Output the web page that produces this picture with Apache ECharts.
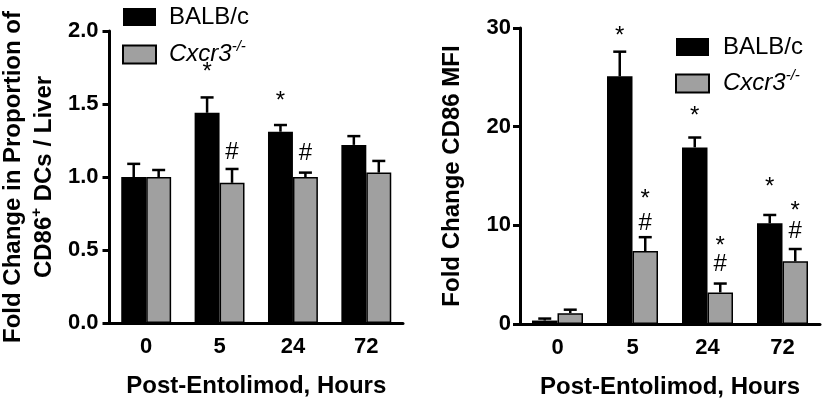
<!DOCTYPE html>
<html>
<head>
<meta charset="utf-8">
<script src="https://cdn.jsdelivr.net/npm/echarts@6/dist/echarts.min.js"></script>
<style>
html,body{margin:0;padding:0;background:#fff;}
#chart{width:825px;height:404px;}
</style>
</head>
<body>
<div id="chart"></div>
<script>
// ---- data ----
const categories = ['0', '5', '24', '72'];
const leftTicks = [0, 0.5, 1.0, 1.5, 2.0];
const rightTicks = [0, 10, 20, 30];

const leftBalb = [1.00, 1.44, 1.31, 1.22];
const leftBalbErr = [0.09, 0.105, 0.046, 0.06];
const leftCxcr3 = [1.00, 0.96, 1.00, 1.03];
const leftCxcr3Err = [0.048, 0.095, 0.03, 0.08];

const rightBalb = [0.35, 25.1, 17.9, 10.2];
const rightBalbErr = [0.2, 2.5, 1.0, 0.85];
const rightCxcr3 = [1.1, 7.4, 3.2, 6.35];
const rightCxcr3Err = [0.35, 1.4, 0.9, 1.25];

// significance marks (y value of each mark's centre)
const leftBalbStarY = [null, 1.75, 1.55, null];
const leftCxcr3HashY = [null, 1.17, 1.16, null];
const rightBalbStarY = [null, 29.7, 21.5, 14.4];
const rightCxcr3StarY = [null, 13.1, 8.4, 11.9];
const rightCxcr3HashY = [null, 10.2, 6.0, 9.4];

const FONT = '"Liberation Sans", Arial, sans-serif';
const GAP = 0.32;
const BLACK = '#000000';
const GRAY = '#a0a0a0';

function errData(vals, errs) {
  return vals.map((v, i) => [i, v, errs[i]]);
}
function markData(ys) {
  const out = [];
  ys.forEach((y, i) => { if (y !== null) out.push([i, y]); });
  return out;
}
function errRender(side) {
  return function (params, api) {
    const i = api.value(0), v = api.value(1), e = api.value(2);
    const base = api.coord([i, v]);
    const top = api.coord([i, v + e]);
    const band = api.size([1, 0])[0];
    const bw = band * (1 - GAP) / 2;
    const x = base[0] + side * bw / 2;
    const st = { stroke: '#000', lineWidth: 2.5 };
    return {
      type: 'group',
      children: [
        { type: 'line', shape: { x1: x, y1: base[1], x2: x, y2: top[1] }, style: st },
        { type: 'line', shape: { x1: x - 6.5, y1: top[1], x2: x + 6.5, y2: top[1] }, style: st }
      ]
    };
  };
}
function markRender(side, txt) {
  return function (params, api) {
    const i = api.value(0), y = api.value(1);
    const p = api.coord([i, y]);
    const band = api.size([1, 0])[0];
    const bw = band * (1 - GAP) / 2;
    const x = p[0] + side * bw / 2;
    const dy = txt === '*' ? 5 : 0;
    return {
      type: 'text',
      x: x, y: p[1] + dy,
      style: { text: txt, fill: '#000', font: '24px ' + FONT, fontSize: 24, fontFamily: FONT,
        align: 'center', verticalAlign: 'middle' }
    };
  };
}

const richName = {
  b: { fontSize: 24, fontWeight: 'bold', fontFamily: FONT, color: '#000', lineHeight: 31 },
  bs: { fontSize: 15, fontWeight: 'bold', fontFamily: FONT, color: '#000', padding: [0, 0, 14, 0] }
};
const legendRich = {
  n: { fontSize: 24, fontFamily: FONT, color: '#000' },
  it: { fontSize: 24, fontStyle: 'italic', fontFamily: FONT, color: '#000' },
  sup: { fontSize: 15, fontStyle: 'italic', fontFamily: FONT, color: '#000', padding: [0, 0, 16, 0] }
};
function legendFmt(name) {
  if (name === 'BALB/c') return '{n|BALB/c}';
  return '{it|Cxcr3}{sup|-/-}';
}
const legendData = [
  { name: 'BALB/c', icon: 'rect', itemStyle: { color: BLACK, borderWidth: 0 } },
  { name: 'Cxcr3-/-', icon: 'rect', itemStyle: { color: GRAY, borderColor: '#000', borderWidth: 2 } }
];

function xAxisCfg(gi, gap) {
  return {
    type: 'category', gridIndex: gi, data: categories,
    name: 'Post-Entolimod, Hours', nameLocation: 'middle', nameGap: gap,
    nameTextStyle: { fontSize: 24, fontWeight: 'bold', fontFamily: FONT, color: '#000', verticalAlign: 'top' },
    axisLine: { lineStyle: { color: '#000', width: 3 } },
    axisTick: { alignWithLabel: true, length: 7, lineStyle: { color: '#000', width: 3 } },
    axisLabel: { fontSize: 22, fontWeight: 'bold', fontFamily: FONT, color: '#000', margin: 13 }
  };
}

const option = {
  animation: false,
  backgroundColor: '#fff',
  grid: [
    { left: 108, top: 31, width: 295, height: 292 },
    { left: 520, top: 28, width: 300, height: 299 }
  ],
  legend: [
    {
      orient: 'vertical', left: 122, top: 5, padding: 0, itemWidth: 33, itemHeight: 18, itemGap: 10,
      selectedMode: false, data: legendData, formatter: legendFmt,
      textStyle: { fontSize: 24, fontFamily: FONT, color: '#000', rich: legendRich, padding: [0, 0, 0, 8] }
    },
    {
      orient: 'vertical', left: 675, top: 35, padding: 0, itemWidth: 33, itemHeight: 18, itemGap: 9,
      selectedMode: false, data: legendData, formatter: legendFmt,
      textStyle: { fontSize: 24, fontFamily: FONT, color: '#000', rich: legendRich, padding: [0, 0, 0, 9] }
    }
  ],
  xAxis: [xAxisCfg(0, 51), xAxisCfg(1, 51)],
  yAxis: [
    {
      type: 'value', gridIndex: 0, min: leftTicks[0], max: leftTicks[leftTicks.length - 1], interval: 0.5,
      name: '{b|Fold Change in Proportion of}\n{b|CD86}{bs|+}{b| DCs / Liver}',
      nameLocation: 'middle', nameGap: 50, nameRotate: 90,
      nameTextStyle: { rich: richName, align: 'center' },
      splitLine: { show: false },
      axisLine: { show: true, lineStyle: { color: '#000', width: 3 } },
      axisTick: { show: true, length: 7, lineStyle: { color: '#000', width: 3 } },
      axisLabel: { fontSize: 22, fontWeight: 'bold', fontFamily: FONT, color: '#000', margin: 11,
        formatter: v => v.toFixed(1) }
    },
    {
      type: 'value', gridIndex: 1, min: rightTicks[0], max: rightTicks[rightTicks.length - 1], interval: 10,
      name: 'Fold Change CD86 MFI',
      nameLocation: 'middle', nameGap: 56, nameRotate: 90,
      nameTextStyle: { fontSize: 24, fontWeight: 'bold', fontFamily: FONT, color: '#000' },
      splitLine: { show: false },
      axisLine: { show: true, lineStyle: { color: '#000', width: 3 } },
      axisTick: { show: true, length: 7, lineStyle: { color: '#000', width: 3 } },
      axisLabel: { fontSize: 22, fontWeight: 'bold', fontFamily: FONT, color: '#000', margin: 9 }
    }
  ],
  series: [
    { name: 'BALB/c', type: 'bar', xAxisIndex: 0, yAxisIndex: 0, data: leftBalb,
      barGap: '0%', barCategoryGap: (GAP * 100) + '%', itemStyle: { color: BLACK } },
    { name: 'Cxcr3-/-', type: 'bar', xAxisIndex: 0, yAxisIndex: 0, data: leftCxcr3,
      barGap: '0%', barCategoryGap: (GAP * 100) + '%', itemStyle: { color: GRAY, borderColor: '#000', borderWidth: 1.5 } },
    { name: 'BALB/c', type: 'bar', xAxisIndex: 1, yAxisIndex: 1, data: rightBalb,
      barGap: '0%', barCategoryGap: (GAP * 100) + '%', itemStyle: { color: BLACK } },
    { name: 'Cxcr3-/-', type: 'bar', xAxisIndex: 1, yAxisIndex: 1, data: rightCxcr3,
      barGap: '0%', barCategoryGap: (GAP * 100) + '%', itemStyle: { color: GRAY, borderColor: '#000', borderWidth: 1.5 } },

    { type: 'custom', xAxisIndex: 0, yAxisIndex: 0, renderItem: errRender(-1), data: errData(leftBalb, leftBalbErr), z: 1 },
    { type: 'custom', xAxisIndex: 0, yAxisIndex: 0, renderItem: errRender(1), data: errData(leftCxcr3, leftCxcr3Err), z: 1 },
    { type: 'custom', xAxisIndex: 1, yAxisIndex: 1, renderItem: errRender(-1), data: errData(rightBalb, rightBalbErr), z: 1 },
    { type: 'custom', xAxisIndex: 1, yAxisIndex: 1, renderItem: errRender(1), data: errData(rightCxcr3, rightCxcr3Err), z: 1 },

    { type: 'custom', xAxisIndex: 0, yAxisIndex: 0, renderItem: markRender(-1, '*'), data: markData(leftBalbStarY), z: 3 },
    { type: 'custom', xAxisIndex: 0, yAxisIndex: 0, renderItem: markRender(1, '#'), data: markData(leftCxcr3HashY), z: 3 },
    { type: 'custom', xAxisIndex: 1, yAxisIndex: 1, renderItem: markRender(-1, '*'), data: markData(rightBalbStarY), z: 3 },
    { type: 'custom', xAxisIndex: 1, yAxisIndex: 1, renderItem: markRender(1, '*'), data: markData(rightCxcr3StarY), z: 3 },
    { type: 'custom', xAxisIndex: 1, yAxisIndex: 1, renderItem: markRender(1, '#'), data: markData(rightCxcr3HashY), z: 3 }
  ]
};

const chart = echarts.init(document.getElementById('chart'), null, { renderer: 'canvas' });
chart.setOption(option);
</script>
</body>
</html>
